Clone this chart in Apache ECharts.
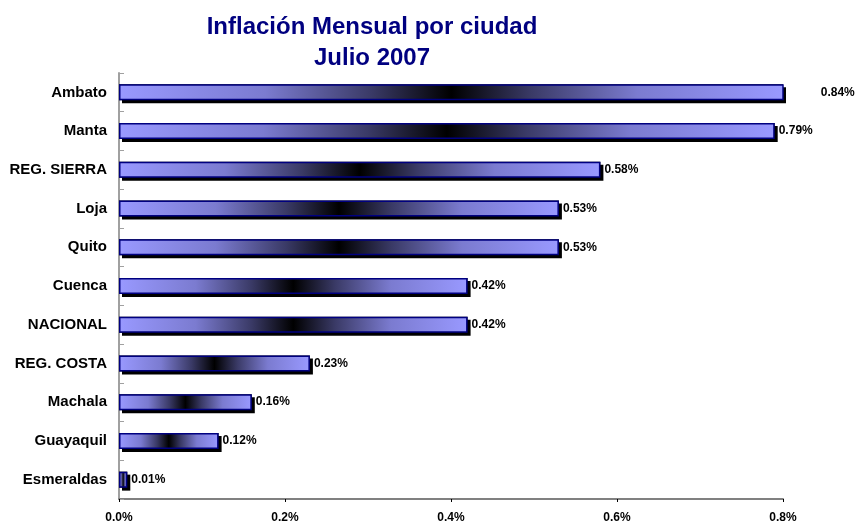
<!DOCTYPE html>
<html>
<head>
<meta charset="utf-8">
<script src="https://cdn.jsdelivr.net/npm/echarts@6/dist/echarts.min.js"></script>
<style>
  html, body { margin: 0; padding: 0; background: #fff; }
  #chart { width: 858px; height: 525px; }
</style>
</head>
<body>
<div id="chart"></div>
<script>
// datos de inflacion mensual, julio 2007
var ciudades = ['Ambato', 'Manta', 'REG. SIERRA', 'Loja', 'Quito', 'Cuenca', 'NACIONAL', 'REG. COSTA', 'Machala', 'Guayaquil', 'Esmeraldas'];
var inflacion = [0.84, 0.79, 0.58, 0.53, 0.53, 0.42, 0.42, 0.23, 0.16, 0.12, 0.01];
var ticksX = [0, 0.2, 0.4, 0.6, 0.8];

var font = 'Liberation Sans, Arial, sans-serif';
var myChart = echarts.init(document.getElementById('chart'));

var barColor = new echarts.graphic.LinearGradient(0, 0, 1, 0, [
  { offset: 0, color: '#9999ff' },
  { offset: 0.22, color: '#7b7bd0' },
  { offset: 0.38, color: '#3a3a66' },
  { offset: 0.5, color: '#000000' },
  { offset: 0.62, color: '#3a3a66' },
  { offset: 0.78, color: '#7b7bd0' },
  { offset: 1, color: '#9999ff' }
]);

var xMax = ticksX[ticksX.length - 1];
var datos = inflacion.map(function (v) {
  var item = { value: v };
  // Ambato se sale del eje, la etiqueta queda donde acabaria la barra
  if (v > xMax) {
    item.label = { offset: [33, 0] };
  }
  return item;
});

var option = {
  animation: false,
  backgroundColor: '#fff',
  title: {
    text: 'Inflación Mensual por ciudad\nJulio 2007',
    left: 367,
    top: 7,
    textAlign: 'center',
    textStyle: {
      fontFamily: font,
      fontSize: 24,
      fontWeight: 'bold',
      color: '#000080',
      lineHeight: 31
    }
  },
  grid: { left: 119, right: 75, top: 73, bottom: 26 },
  xAxis: {
    type: 'value',
    min: ticksX[0],
    max: xMax,
    interval: 0.2,
    splitLine: { show: false },
    axisLine: { show: true, lineStyle: { color: '#808080', width: 2 } },
    axisTick: { show: true, length: 3, lineStyle: { color: '#000' } },
    axisLabel: {
      fontFamily: font,
      fontSize: 12,
      fontWeight: 'bold',
      color: '#000',
      margin: 13,
      formatter: function (v) { return v.toFixed(1) + '%'; }
    }
  },
  yAxis: {
    type: 'category',
    inverse: true,
    data: ciudades,
    axisLine: { show: true, lineStyle: { color: '#a0a0a0', width: 2 } },
    axisTick: { show: true, length: 5, inside: true, lineStyle: { color: '#a0a0a0' } },
    axisLabel: {
      fontFamily: font,
      fontSize: 15,
      fontWeight: 'bold',
      color: '#000',
      margin: 12
    }
  },
  series: [
    {
      // sombra negra desplazada
      type: 'bar',
      data: inflacion,
      barWidth: 16,
      silent: true,
      itemStyle: {
        color: '#000',
        shadowColor: '#000',
        shadowBlur: 0,
        shadowOffsetX: 3,
        shadowOffsetY: 3
      }
    },
    {
      type: 'bar',
      data: datos,
      barWidth: 16,
      barGap: '-100%',
      itemStyle: {
        color: barColor,
        borderColor: '#000080',
        borderWidth: 1.5
      },
      label: {
        show: true,
        position: 'right',
        distance: 4,
        fontFamily: font,
        fontSize: 12,
        fontWeight: 'bold',
        color: '#000',
        formatter: function (p) { return p.value.toFixed(2) + '%'; }
      }
    }
  ]
};

myChart.setOption(option);
</script>
</body>
</html>
